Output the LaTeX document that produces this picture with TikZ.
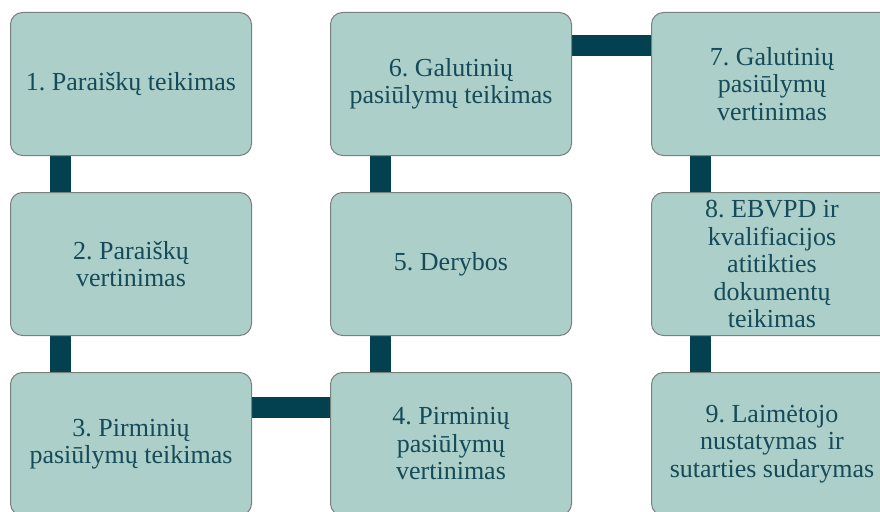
\documentclass[tikz,border=0pt]{standalone}
\usepackage{fontspec}
\setmainfont{Liberation Serif}
\newfontfamily\boxfont{Liberation Serif}
\usetikzlibrary{calc,backgrounds}
\definecolor{boxfill}{RGB}{172,207,201}
\definecolor{boxline}{RGB}{120,128,126}
\definecolor{txt}{RGB}{22,74,88}
\definecolor{link}{RGB}{3,64,80}
\tikzset{
  stepbox/.style={draw=boxline, line width=1pt, fill=boxfill, rounded corners=12pt,
    minimum width=241pt, minimum height=143pt, align=center, text=txt,
    font=\boxfont\frenchspacing\fontsize{26}{27.5}\selectfont, inner sep=0pt, anchor=north west},
  linkbar/.style={draw=link, line width=21pt}
}
\begin{document}
\frenchspacing
\begin{tikzpicture}[x=1pt,y=-1pt]
\useasboundingbox (0,0) rectangle (880,511);
\clip (0,0) rectangle (880,511);
\node[stepbox] (n1) at (10,12) {1. Paraiškų teikimas};
\node[stepbox] (n2) at (10,192) {2. Paraiškų\\vertinimas};
\node[stepbox] (n3) at (10,372) {3. Pirminių\\pasiūlymų teikimas};
\node[stepbox] (n4) at (330,372) {4. Pirminių\\pasiūlymų\\vertinimas};
\node[stepbox] (n5) at (330,192) {5. Derybos};
\node[stepbox] (n6) at (330,12) {6. Galutinių\\pasiūlymų teikimas};
\node[stepbox] (n7) at (651,12) {7. Galutinių\\pasiūlymų\\vertinimas};
\node[stepbox] (n8) at (651,192) {8. EBVPD ir\\kvalifiacijos\\atitikties\\dokumentų\\teikimas};
\node[stepbox] (n9) at (651,372) {9. Laimėtojo\\nustatymas\ \,ir\\sutarties sudarymas};
\begin{scope}[on background layer]
\draw[linkbar] ($(n1.south west)+(50,0)$) -- ($(n2.north west)+(50,0)$);
\draw[linkbar] ($(n2.south west)+(50,0)$) -- ($(n3.north west)+(50,0)$);
\draw[linkbar] ($(n3.north east)+(0,35.5)$) -- ($(n4.north west)+(0,35.5)$);
\draw[linkbar] ($(n4.north west)+(50.5,0)$) -- ($(n5.south west)+(50.5,0)$);
\draw[linkbar] ($(n5.north west)+(50.5,0)$) -- ($(n6.south west)+(50.5,0)$);
\draw[linkbar] ($(n6.north east)+(0,33.5)$) -- ($(n7.north west)+(0,33.5)$);
\draw[linkbar] ($(n7.south west)+(49,0)$) -- ($(n8.north west)+(49,0)$);
\draw[linkbar] ($(n8.south west)+(49,0)$) -- ($(n9.north west)+(49,0)$);
\end{scope}
\end{tikzpicture}
\end{document}
